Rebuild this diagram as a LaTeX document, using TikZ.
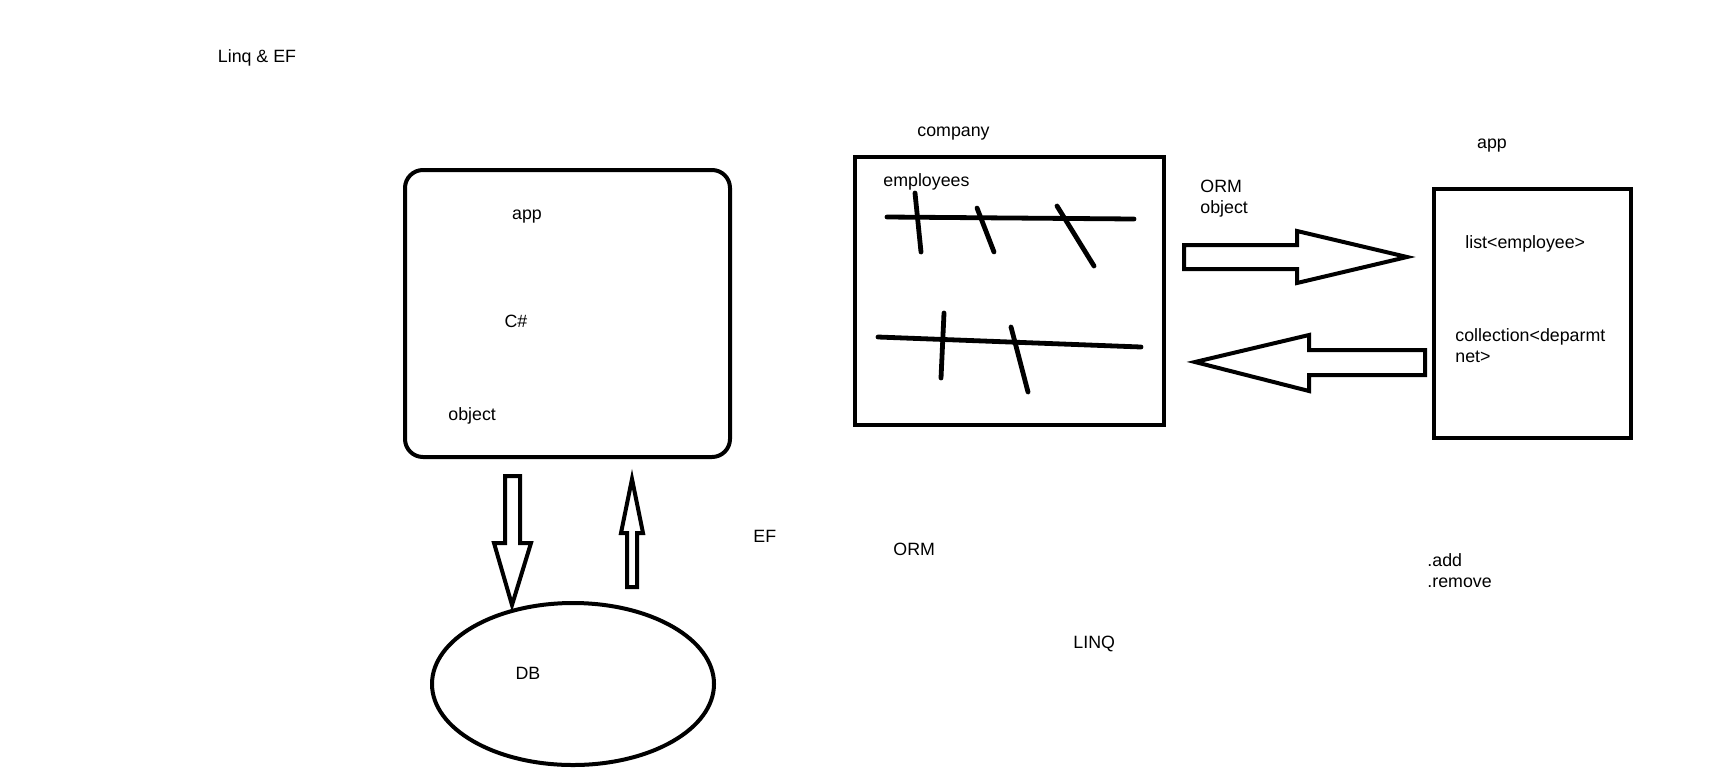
\documentclass[tikz,border=0pt]{standalone}
\usepackage{fontspec}
\setmainfont{Liberation Sans}
\usetikzlibrary{shapes.geometric}
\begin{document}
\begin{tikzpicture}[x=0.5pt,y=-0.5pt,
  lbl/.style={inner sep=0pt,font=\fontsize{8.9}{10.5}\selectfont},
  box/.style={draw,line width=2pt,inner sep=0pt},
  blockarrow/.style={draw,line width=2pt,line join=miter},
  stroke/.style={line width=2.4pt,line cap=round}]
\useasboundingbox (0,0) rectangle (1727,772);
% boxes
\node[box,rounded corners=9pt,minimum width=162.5pt,minimum height=143.5pt] (appbox) at (567.5,313.5) {};
\node[box,minimum width=154.5pt,minimum height=134pt] (company) at (1009.5,291) {};
\node[box,minimum width=98.5pt,minimum height=124.5pt] (appright) at (1532.5,313.5) {};
\node[box,ellipse,minimum width=141pt,minimum height=81pt] (db) at (573,684) {};
% labels
\node[lbl,anchor=base] (title) at (257,62) {Linq \& EF};
\node[lbl,anchor=base] (tapp) at (527,219) {app};
\node[lbl,anchor=base] (tcs) at (516,327) {C\#};
\node[lbl,anchor=base west] (tobj) at (448,420) {object};
\node[lbl,anchor=base] (tdb) at (528,679) {DB};
\node[lbl,anchor=base west] (tcompany) at (917,136) {company};
\node[lbl,anchor=base west] (temp) at (883,186) {employees};
\node[lbl,anchor=base west,align=left] (torm) at (1200,213) {ORM\\object};
\node[lbl,anchor=base] (tapp2) at (1492,148) {app};
\node[lbl,anchor=base west] (tlist) at (1465,248) {list<employee>};
\node[lbl,anchor=base west,align=left] (tcoll) at (1455,362) {collection<deparmt\\net>};
\node[lbl,anchor=base west] (tef) at (753,542) {EF};
\node[lbl,anchor=base west] (torm2) at (893,555) {ORM};
\node[lbl,anchor=base west] (tlinq) at (1073,648) {LINQ};
\node[lbl,anchor=base west,align=left] (tadd) at (1427,587) {.add\\.remove};
% sketch strokes in company box
\draw[stroke] (887,217) -- (1134,219);
\draw[stroke] (915,193) -- (921,252);
\draw[stroke] (977,208) -- (994,252);
\draw[stroke] (1057,206) -- (1094,266);
\draw[stroke] (878,337) -- (1141,347);
\draw[stroke] (944,313) -- (941,378);
\draw[stroke] (1011,327) -- (1028,392);
% block arrows
\draw[blockarrow] (1184,245) -- (1297,245) -- (1297,231) -- (1407,257) -- (1297,283) -- (1297,269) -- (1184,269) -- cycle;
\draw[blockarrow] (1425,350) -- (1309,350) -- (1309,335) -- (1195,362) -- (1309,391) -- (1309,375) -- (1425,375) -- cycle;
\draw[blockarrow] (505,476) -- (520,476) -- (520,543) -- (531,543) -- (512,605) -- (494,543) -- (505,543) -- cycle;
\draw[blockarrow] (627,587) -- (627,533) -- (621,533) -- (632,479) -- (643,533) -- (637,533) -- (637,587) -- cycle;
\end{tikzpicture}
\end{document}
